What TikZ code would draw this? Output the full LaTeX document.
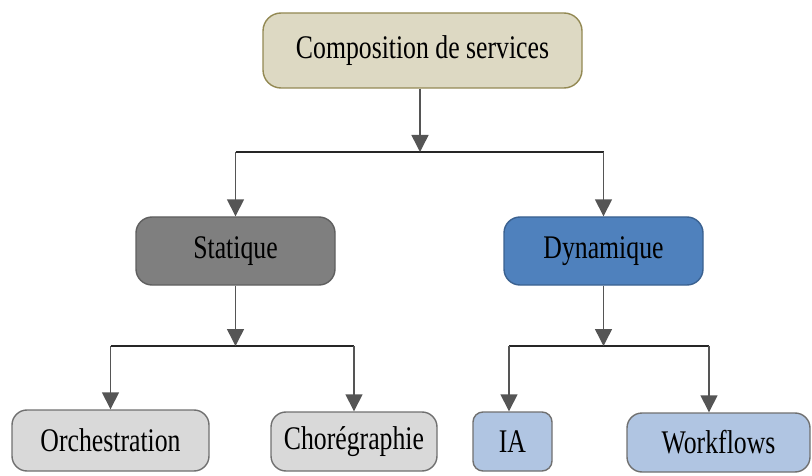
\documentclass[tikz,border=0pt]{standalone}
\usepackage{fontspec}
\setmainfont[FakeStretch=0.78]{Liberation Serif}
\usetikzlibrary{arrows.meta}

\definecolor{beigefill}{HTML}{DDD9C3}
\definecolor{beigeline}{HTML}{938953}
\definecolor{darkfill}{HTML}{7F7F7F}
\definecolor{darkline}{HTML}{5F5F5F}
\definecolor{bluefill}{HTML}{4F81BD}
\definecolor{blueline}{HTML}{3A6190}
\definecolor{greyfill}{HTML}{D9D9D9}
\definecolor{paleblue}{HTML}{B0C5E2}
\definecolor{boxline}{HTML}{707070}
\definecolor{wire}{HTML}{555555}

\tikzset{
  box/.style={rectangle, rounded corners=15pt, line width=1.4pt, inner sep=0pt,
    font=\fontsize{33}{36}\selectfont, text=black},
  rootbox/.style={box, fill=beigefill, draw=beigeline, rounded corners=18pt},
  statbox/.style={box, fill=darkfill, draw=darkline, rounded corners=16pt},
  dynbox/.style={box, fill=bluefill, draw=blueline, rounded corners=16pt},
  greybox/.style={box, fill=greyfill, draw=boxline},
  palebox/.style={box, fill=paleblue, draw=boxline},
  arr/.style={draw=wire, line width=1.5pt, -{Triangle[width=17pt,length=17pt,fill=wire]}},
  bus/.style={draw=black!85, line width=1.8pt}
}

\begin{document}
\begin{tikzpicture}[x=1pt, y=-1pt]
  \useasboundingbox (0,0) rectangle (812,476);

  % level 0
  \node[rootbox, minimum width=319pt, minimum height=75pt] (root) at (422.5,50.5) {Composition de services};

  % level 1
  \node[statbox, minimum width=199pt, minimum height=68pt] (stat) at (235.5,251) {Statique};
  \node[dynbox, minimum width=199pt, minimum height=68pt] (dyn) at (603.5,251) {Dynamique};

  % level 2
  \node[greybox, minimum width=197pt, minimum height=61pt] (orch) at (110.5,440.5) {Orchestration};
  \node[greybox, minimum width=166pt, minimum height=59pt] (chor) at (354,441.5) {Chorégraphie};
  \node[palebox, rounded corners=10pt, minimum width=79pt, minimum height=59pt] (ia) at (512.5,441.5) {IA};
  \node[palebox, minimum width=183pt, minimum height=59pt] (wf) at (718.5,442.5) {Workflows};

  % junction points on the horizontal buses
  \coordinate (j0) at (420,152);
  \coordinate (j1) at (235.5,346);
  \coordinate (j2) at (603.5,346);

  % root -> Statique / Dynamique
  \draw[bus] (stat.north |- j0) -- (dyn.north |- j0);
  \draw[arr] (root.south -| j0) -- (j0);
  \draw[arr] (stat.north |- j0) -- (stat.north);
  \draw[arr] (dyn.north |- j0) -- (dyn.north);

  % Statique -> Orchestration / Chorégraphie
  \draw[bus] (orch.north |- j1) -- (chor.north |- j1);
  \draw[arr] (stat.south) -- (j1);
  \draw[arr] (orch.north |- j1) -- (orch.north);
  \draw[arr] (chor.north |- j1) -- (chor.north);

  % Dynamique -> IA / Workflows
  \coordinate (iatop) at ([xshift=-3.5pt]ia.north);
  \coordinate (wftop) at ([xshift=-9.5pt]wf.north);
  \draw[bus] (iatop |- j2) -- (wftop |- j2);
  \draw[arr] (dyn.south) -- (j2);
  \draw[arr] (iatop |- j2) -- (iatop);
  \draw[arr] (wftop |- j2) -- (wftop);
\end{tikzpicture}
\end{document}
